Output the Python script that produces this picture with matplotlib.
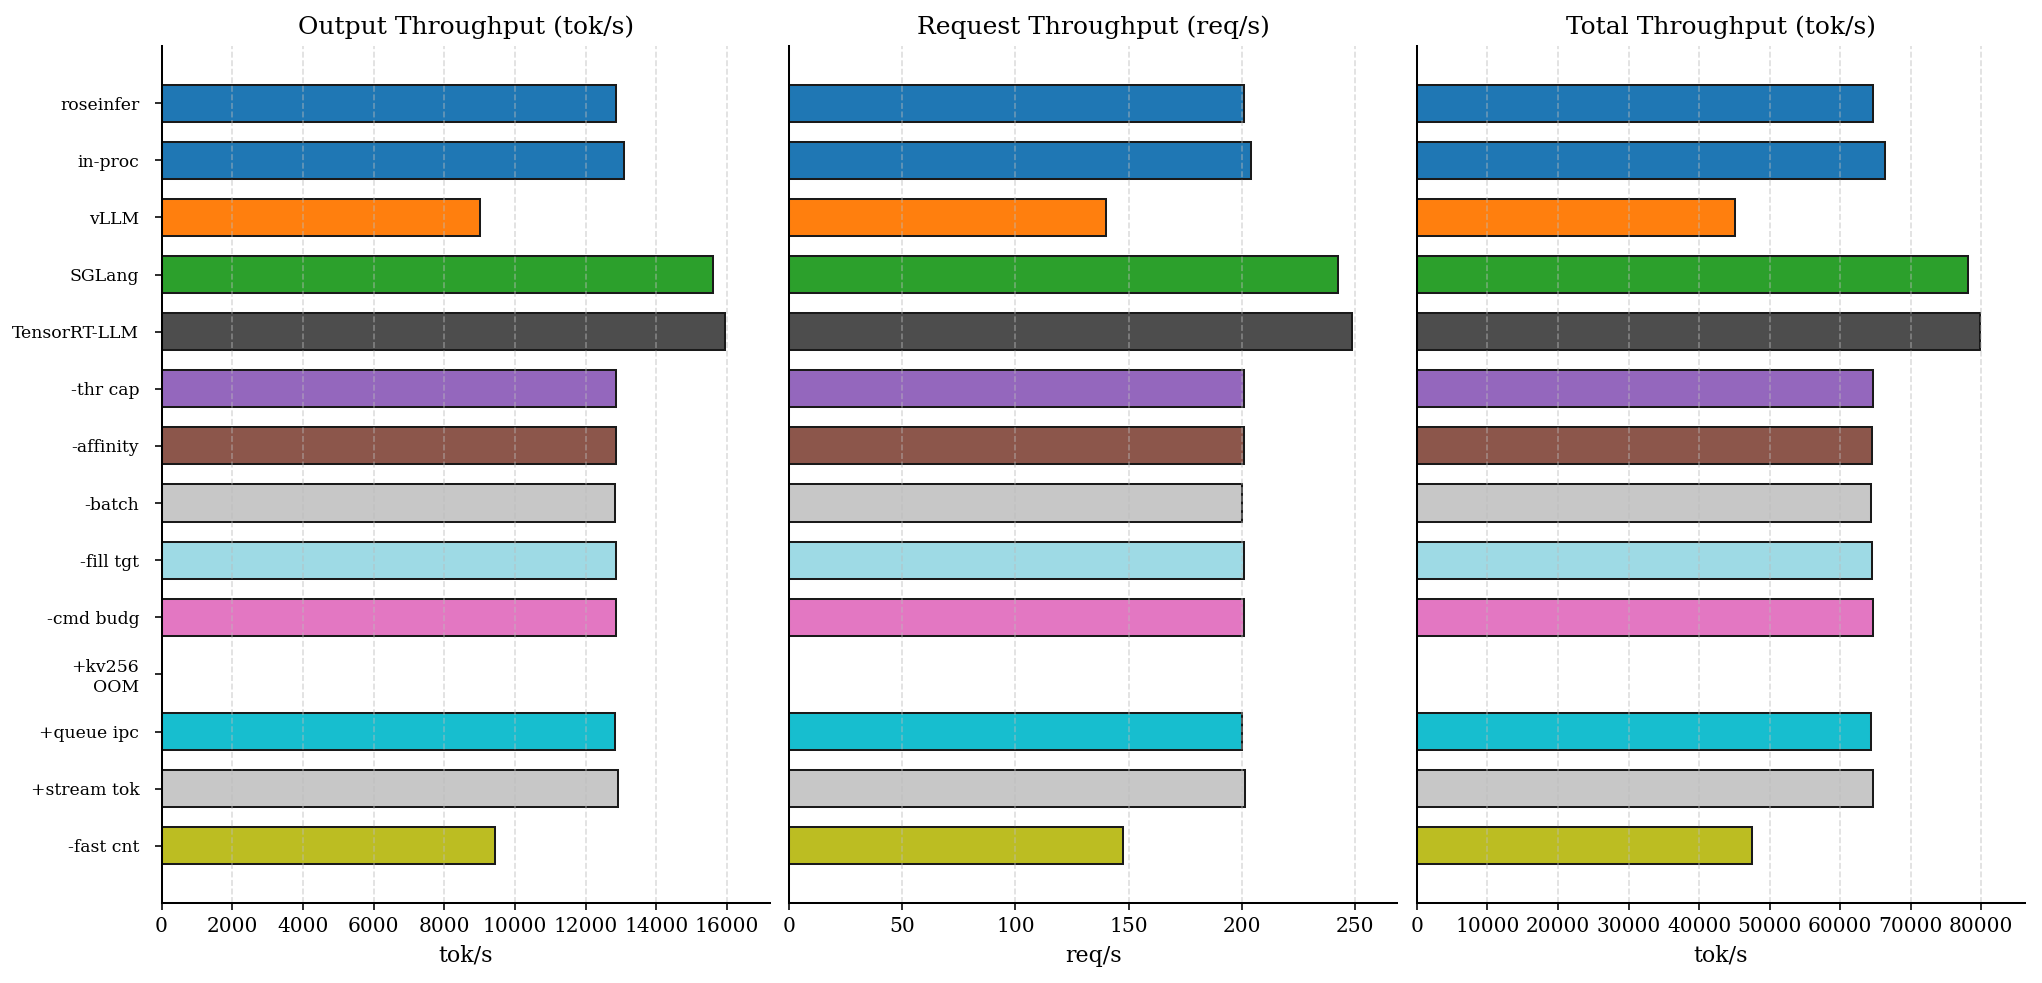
import numpy as np
import matplotlib
matplotlib.use("Agg")
import matplotlib.pyplot as plt

plt.rcParams['font.family'] = 'DejaVu Serif'

labels = ['roseinfer', 'in-proc', 'vLLM', 'SGLang', 'TensorRT-LLM', '-thr cap', '-affinity',
          '-batch', '-fill tgt', '-cmd budg', '+kv256\nOOM', '+queue ipc', '+stream tok', '-fast cnt']
# +kv256 ran out of memory -> no bar
output_tps = [12870, 13090, 8995, 15590, 15930, 12870, 12870, 12830, 12870, 12870, np.nan, 12830, 12900, 9440]
request_tps = [201.1, 204.0, 140.2, 242.5, 248.9, 201.1, 201.1, 200.2, 201.1, 201.1, np.nan, 200.2, 201.3, 147.7]
total_tps = [64660, 66330, 45080, 78150, 79820, 64660, 64480, 64300, 64480, 64660, np.nan, 64300, 64660, 47480]
colors = ['#1f77b4', '#1f77b4', '#ff7f0e', '#2ca02c', '#4d4d4d', '#9467bd', '#8c564b',
          '#c7c7c7', '#9edae5', '#e377c2', '#c7c7c7', '#17becf', '#c7c7c7', '#bcbd22']

panels = [
    ('Output Throughput (tok/s)', 'tok/s', output_tps),
    ('Request Throughput (req/s)', 'req/s', request_tps),
    ('Total Throughput (tok/s)', 'tok/s', total_tps),
]

s = 1.45  # scale factor for fonts / lines
fig, axes = plt.subplots(1, 3, figsize=(20.42, 9.83), dpi=100, sharey=True)
y = np.arange(len(labels))
for i, (ax, (title, xlabel, vals)) in enumerate(zip(axes, panels)):
    ax.barh(y, vals, height=0.65, color=colors, edgecolor='#1a1a1a', linewidth=1.0 * s)
    ax.set_title(title, fontsize=18, pad=6 * s)
    ax.set_xlabel(xlabel, fontsize=11 * s, labelpad=4 * s)
    ax.set_xlim(0, np.nanmax(vals) * 1.08)
    ax.grid(axis='x', linestyle='--', color='#bbbbbb', alpha=0.5, linewidth=0.8 * s)
    ax.set_axisbelow(False)
    ax.spines['top'].set_visible(False)
    ax.spines['right'].set_visible(False)
    for side in ['left', 'bottom']:
        ax.spines[side].set_linewidth(1.0 * s)
        ax.spines[side].set_color('black')
        ax.spines[side].set_zorder(5)
    ax.tick_params(axis='x', labelsize=10 * s, width=0.8 * s, length=3.5 * s, pad=3.5 * s)
    ax.tick_params(axis='y', labelsize=12.4, width=0.8 * s, length=3.5 * s, pad=11)
    if i > 0:
        ax.tick_params(axis='y', left=False)

axes[0].set_yticks(y)
axes[0].set_yticklabels(labels)
axes[0].invert_yaxis()

fig.subplots_adjust(left=0.0791, right=0.9917, top=0.9536, bottom=0.081, wspace=0.032)
fig.savefig('out.png', dpi=100)
